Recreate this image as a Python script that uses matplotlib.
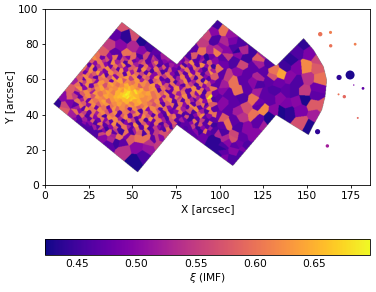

import matplotlib

matplotlib.use("Agg")
import matplotlib.pyplot as plt
import numpy as np
from matplotlib.path import Path

# cell centres (arcsec) and xi values, by region
left_x = [43.9, 40, 46.4, 51.5, 55.3, 60, 64, 69.7, 37.2, 43, 50.6, 55.3, 33.4, 40, 46.8, 62,
          6.7, 10.5, 10.5, 15.3, 16.2, 21, 22, 26.7, 32.4, 36.3, 41, 44.8, 51.5, 56.3, 59.2, 64, 68.7, 73.5, 52.5, 48.7, 53.4,
          14, 11, 14, 38, 33, 42, 47, 44, 39, 58, 62, 66, 60, 65, 70]
left_y = [90.9, 85, 84, 85, 82, 78.6, 75.7, 72, 79.5, 79.5, 78.6, 75.7, 74.8, 74.8, 73.8, 71,
          46, 49.8, 42.6, 54, 39.7, 60.6, 35, 32.2, 29.3, 22.7, 24.6, 19.8, 13.2, 16.1, 20.8, 26.5, 29.3, 33.1, 21.7, 26.5, 26.5,
          47, 45, 50, 26, 27, 27, 28, 24, 28, 27, 26, 27, 24, 23, 28]
left_xi = [.57, .47, .44, .57, .43, .45, .47, .52, .55, .50, .53, .50, .58, .47, .60, .55,
           .44, .50, .58, .58, .52, .58, .50, .46, .56, .47, .45, .54, .43, .46, .51, .55, .57, .56, .50, .58, .60,
           .49, .56, .58, .53, .50, .60, .49, .47, .52, .60, .47, .50, .54, .55, .57]

core_x = [46.4, 47.4, 45.4, 47, 45.2, 48.6, 44, 46, 49.5, 43, 48.4, 44.8, 50.8, 42, 47, 43.5, 51, 41]
core_y = [51.3, 52, 50.8, 50.2, 52.4, 51, 51.5, 53.5, 49.8, 50, 48.8, 48.6, 52, 52.4, 55, 55, 48, 49]
core_xi = [.695, .685, .68, .675, .67, .67, .665, .665, .66, .66, .655, .655, .65, .65, .645, .64, .64, .645]

# fine speckle of the inner field, read row by row (hundredths of xi)
fine_x0, fine_dx = 17.5, 2.5
fine_y = [72, 69.8, 67.6, 65.4, 63.2, 61, 58.8, 56.6, 54.4, 52.2, 50, 47.8, 45.6, 43.4, 41.2, 39, 36.8, 34.6, 32.4, 30.2]
fine_xi = [
    [55, 55, 55, 55, 62, 60, 48, 57, 50, 60, 47, 54, 49, 59, 50, 46, 56, 47, 52, 46, 52, 52, 52, 52, 52, 52, 46, 58, 47, 50, 44, 48],
    [55, 55, 55, 58, 50, 60, 54, 47, 62, 52, 57, 46, 60, 48, 55, 58, 47, 53, 60, 47, 50, 50, 50, 50, 48, 55, 62, 47, 52, 46, 58, 50],
    [55, 55, 60, 47, 62, 54, 60, 50, 48, 60, 55, 62, 47, 58, 52, 47, 60, 49, 55, 46, 58, 47, 52, 50, 60, 46, 50, 60, 47, 62, 50, 45],
    [55, 60, 52, 62, 47, 58, 49, 62, 56, 47, 62, 50, 58, 60, 47, 62, 54, 46, 60, 52, 47, 57, 48, 47, 52, 60, 47, 57, 50, 46, 60, 52],
    [58, 56, 48, 60, 58, 63, 52, 47, 62, 58, 60, 47, 62, 52, 60, 56, 47, 61, 50, 58, 46, 60, 50, 46, 58, 47, 62, 49, 60, 46, 53, 62],
    [58, 48, 62, 55, 47, 60, 62, 57, 63, 50, 61, 63, 55, 62, 47, 60, 58, 50, 62, 47, 55, 60, 47, 52, 61, 48, 57, 46, 60, 50, 47, 58],
    [52, 60, 55, 62, 58, 50, 63, 60, 48, 62, 64, 57, 62, 60, 63, 52, 62, 47, 58, 60, 50, 47, 60, 46, 55, 62, 47, 52, 60, 46, 62, 50],
    [60, 47, 62, 48, 60, 63, 57, 62, 64, 60, 62, 65, 61, 63, 58, 62, 60, 63, 50, 62, 57, 48, 60, 52, 47, 60, 55, 46, 60, 50, 57, 47],
    [56, 62, 50, 60, 57, 62, 64, 60, 63, 62, 65, 63, 66, 64, 62, 65, 60, 62, 63, 47, 60, 56, 48, 62, 50, 58, 47, 62, 47, 60, 52, 60],
    [48, 58, 62, 52, 63, 60, 62, 64, 61, 65, 64, 67, 66, 68, 65, 63, 64, 60, 62, 58, 62, 47, 60, 52, 60, 47, 60, 50, 62, 46, 60, 48],
    [55, 47, 60, 62, 57, 63, 61, 64, 63, 65, 66, 68, 69, 67, 65, 64, 62, 63, 60, 62, 52, 61, 48, 60, 55, 62, 47, 58, 52, 47, 60, 68],
    [60, 52, 48, 62, 60, 62, 64, 58, 63, 64, 63, 65, 67, 64, 65, 62, 63, 58, 62, 50, 60, 62, 47, 58, 47, 60, 52, 47, 60, 50, 62, 46],
    [47, 60, 58, 50, 62, 57, 62, 63, 60, 62, 64, 62, 63, 61, 64, 60, 62, 60, 57, 62, 47, 58, 60, 46, 60, 50, 62, 47, 57, 60, 46, 58],
    [52, 47, 62, 60, 48, 62, 60, 47, 63, 58, 62, 60, 47, 62, 58, 63, 50, 62, 60, 47, 60, 50, 47, 61, 52, 47, 58, 62, 47, 50, 62, 47],
    [60, 50, 55, 47, 60, 52, 62, 58, 50, 62, 47, 61, 60, 55, 62, 46, 60, 52, 62, 57, 47, 62, 48, 50, 60, 47, 56, 46, 58, 52, 46, 60],
    [47, 58, 46, 60, 50, 60, 46, 62, 60, 47, 58, 62, 48, 60, 50, 62, 58, 47, 60, 50, 46, 58, 60, 47, 46, 57, 45, 50, 62, 47, 50, 60],
    [50, 46, 52, 47, 58, 48, 60, 50, 47, 62, 52, 46, 60, 55, 47, 60, 46, 62, 48, 60, 52, 46, 57, 47, 52, 48, 45, 60, 47, 55, 46, 47],
    [46, 46, 47, 50, 46, 60, 47, 55, 62, 46, 60, 50, 47, 62, 45, 58, 50, 47, 60, 46, 55, 48, 58, 45, 47, 47, 50, 46, 57, 47, 60, 45],
    [46, 46, 46, 46, 52, 47, 56, 45, 50, 58, 46, 60, 52, 47, 60, 47, 62, 46, 55, 50, 47, 60, 46, 47, 47, 46, 47, 55, 45, 50, 47, 52],
    [46, 46, 46, 46, 46, 46, 50, 60, 47, 55, 45, 60, 46, 52, 58, 46, 60, 47, 55, 57, 46, 56, 47, 47, 47, 47, 47, 50, 45, 60, 47, 46],
]

# medium cells on the right half of the middle field
medium_x0, medium_dx = 98, 5
medium_y = [78, 73, 68, 63, 58, 53, 48, 43, 38, 33, 28, 23, 18]
medium_xi = [
    [53, 50, 46, 53, 45, 45, 45],
    [47, 55, 50, 45, 58, 52, 50],
    [60, 48, 46, 56, 47, 52, 46],
    [47, 55, 50, 47, 53, 47, 60],
    [47, 52, 60, 47, 50, 46, 47],
    [50, 47, 60, 47, 52, 47, 46],
    [47, 50, 47, 46, 60, 48, 47],
    [50, 47, 52, 57, 47, 62, 50],
    [48, 58, 47, 54, 60, 47, 43],
    [47, 60, 46, 50, 47, 52, 50],
    [53, 46, 56, 47, 50, 50, 50],
    [46, 50, 48, 46, 47, 47, 47],
    [44, 47, 50, 46, 47, 47, 47],
]

# cell centres are never on a lattice in the original, so push them off it
nudge_x = [0.6, -0.8, 0.2, -0.3, 0.9, -0.6, 0.4]
nudge_y = [-0.5, 0.7, 0.1, -0.8, 0.4, 0.9, -0.2, -0.6, 0.3, 0.8, -0.1]

mid_x = [98.6, 96.4, 102, 92.5, 106.9, 97.3, 89.7, 102, 111.6, 107.8, 85, 89.7, 94.5, 98.3, 104, 110.7, 118.3, 114.5,
         91, 98, 103, 109, 106.9, 101.1, 95.4, 107.8, 113.5, 102, 119.3, 128.8]
mid_y = [90.9, 87, 88.4, 85.2, 86.1, 82.4, 80.5, 80.5, 80.5, 81.4, 77.6, 75.7, 75.7, 75.7, 75.7, 75.7, 75.7, 75.7,
         28, 25, 26, 22, 14.2, 20.8, 25.9, 26.5, 19.9, 15.1, 28.4, 38.4]
mid_xi = [.45, .50, .60, .56, .51, .46, .55, .53, .46, .49, .47, .60, .53, .61, .50, .44, .45, .53,
          .48, .44, .53, .47, .46, .44, .44, .57, .49, .49, .50, .43]

right_x = [148, 140.3, 144, 151.7, 156.5, 149.4, 155.5, 157, 144, 137.4, 140.3, 150.7, 134.9, 144, 148.8, 155.5, 154.6, 148.5,
           144, 138.3, 142, 134.5, 139.3, 135.5, 146, 153.6, 154.6, 147, 150.7, 158.4, 130, 133, 138]
right_y = [80.5, 71, 75.7, 74.8, 71, 66.8, 66.3, 60.2, 66.3, 67.2, 61.5, 60.6, 63.4, 58.7, 53, 54.9, 51.1, 48.6,
           47.3, 53, 53, 49.2, 41.6, 41.6, 42.6, 45.4, 39.7, 35, 33.1, 44.5, 61, 58, 46]
right_xi = [.44, .44, .46, .49, .56, .62, .58, .60, .49, .45, .50, .54, .64, .46, .55, .48, .47, .43,
            .50, .47, .46, .50, .44, .43, .49, .58, .52, .57, .43, .58, .57, .48, .49]

# detached blobs to the right of the mosaic
blob_x = [174.6, 168.3, 157.5, 163.4, 163.5, 177.5, 168, 171.3, 182, 176.7, 156, 161.6, 179]
blob_y = [62.5, 61.1, 85.7, 86.7, 79.1, 80, 51.5, 50.2, 54.9, 56.8, 30.3, 22.2, 38.1]
blob_xi = [.43, .44, .60, .61, .60, .61, .60, .59, .47, .49, .44, .52, .59]
blob_s = [42, 14, 10, 5, 6, 4, 2, 6, 4, 1, 14, 6, 2]

# footprint of the mosaic
footprint_x = [43.9, 75.4, 98.6, 132.2, 147.9, 153.6, 159.3, 161.2, 160.3, 158.4, 153.6, 150.7, 132.2, 107.4, 75.4, 52.9, 4.8]
footprint_y = [92.4, 68.5, 93.7, 67.6, 83.3, 76.7, 67.2, 59.6, 50.2, 42.6, 34, 28.4, 39.7, 10.8, 34.1, 7.2, 46]

xi_min, xi_max = 0.423, 0.697


def staggered_rows(x0, dx, ys, rows):
    """Row-by-row readings to seed lists, offset every other row and nudged off the lattice."""
    xs_out, ys_out, vals_out = [], [], []
    scale = dx / 2.5
    for i, (y, row) in enumerate(zip(ys, rows)):
        for j, val in enumerate(row):
            k = i * len(row) + j
            xs_out.append(x0 + j * dx + (i % 2) * dx / 2 + scale * nudge_x[k % len(nudge_x)])
            ys_out.append(y + scale * nudge_y[k % len(nudge_y)])
            vals_out.append(val / 100)
    return xs_out, ys_out, vals_out


def main() -> None:
    fx, fy, fv = staggered_rows(fine_x0, fine_dx, fine_y, fine_xi)
    mx, my, mv = staggered_rows(medium_x0, medium_dx, medium_y, medium_xi)
    cells_x = np.array(left_x + core_x + fx + mx + mid_x + right_x)
    cells_y = np.array(left_y + core_y + fy + my + mid_y + right_y)
    cells_xi = np.array(left_xi + core_xi + fv + mv + mid_xi + right_xi)

    # nearest seed on a fine pixel grid gives the Voronoi look
    gx, gy = np.meshgrid(np.arange(0, 186, 0.2), np.arange(0, 100, 0.2))
    img = np.zeros(gx.shape)
    for r in range(gx.shape[0]):
        dist = (gx[r, :, None] - cells_x) ** 2 + (gy[r, :, None] - cells_y) ** 2
        img[r] = cells_xi[dist.argmin(axis=-1)]
    inside = Path(np.column_stack([footprint_x, footprint_y])).contains_points(
        np.column_stack([gx.ravel(), gy.ravel()])
    )
    img = np.ma.masked_where(~inside.reshape(gx.shape), img)

    fig = plt.figure(figsize=(3.76, 2.92), dpi=100)
    ax = fig.add_axes([45 / 376, 1 - 185 / 292, 325 / 376, 176 / 292])
    im = ax.imshow(img, origin="lower", extent=(0, 186, 0, 100), aspect="auto",
                   cmap="plasma", vmin=xi_min, vmax=xi_max, interpolation="antialiased")
    ax.scatter(blob_x, blob_y, s=blob_s, c=blob_xi, cmap="plasma", vmin=xi_min, vmax=xi_max, linewidths=0)
    ax.set_xlim(0, 186)
    ax.set_ylim(0, 100)
    ax.set_xticks(range(0, 176, 25))
    ax.set_yticks(range(0, 101, 20))
    ax.set_xlabel("X [arcsec]", fontsize=7.7, labelpad=2)
    ax.set_ylabel("Y [arcsec]", fontsize=7.7, labelpad=2)
    ax.tick_params(labelsize=7.7, length=2.5, width=0.6, pad=2)
    for spine in ax.spines.values():
        spine.set_linewidth(0.6)

    cax = fig.add_axes([45 / 376, 1 - 255 / 292, 325 / 376, 16 / 292])
    cbar = fig.colorbar(im, cax=cax, orientation="horizontal")
    cbar.set_ticks([0.45, 0.50, 0.55, 0.60, 0.65])
    cbar.ax.tick_params(labelsize=7.7, length=0, pad=3)
    cbar.outline.set_linewidth(0.6)
    cbar.set_label(r"$\xi$ (IMF)", fontsize=7.7, labelpad=1)

    fig.savefig("out.png", dpi=100)


if __name__ == "__main__":
    main()
